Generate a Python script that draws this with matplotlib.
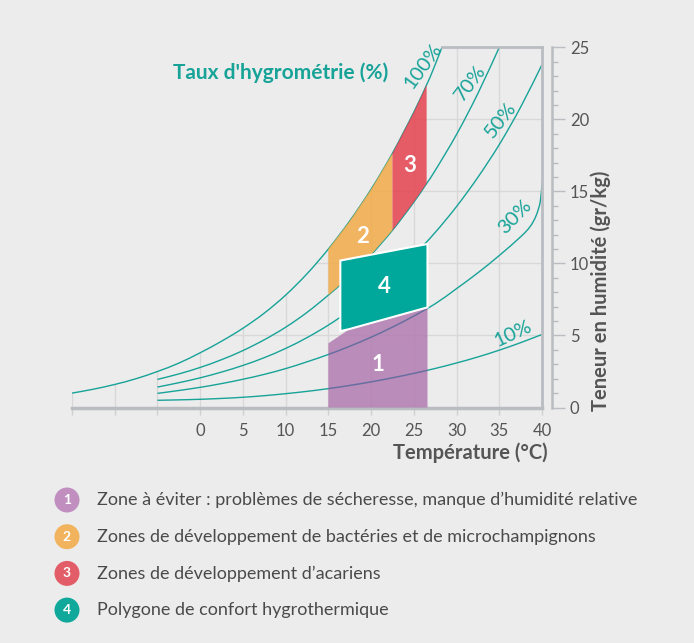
import matplotlib.pyplot as plt
from matplotlib.patches import Polygon, Circle, PathPatch
from matplotlib.path import Path

plt.rcParams['font.family'] = ['Lato', 'DejaVu Sans']

# courbes d'humidité relative : température (°C) -> teneur en eau (g/kg)
t_100 = [-15, -12.5, -10, -7.5, -5, -2.5, 0, 2.5, 5, 7.5, 10, 12.5, 15, 17.5, 20, 22.5, 25, 26.5, 27.5, 30]
w_100 = [1.0, 1.27, 1.6, 2.0, 2.5, 3.08, 3.8, 4.6, 5.5, 6.55, 7.8, 9.28, 11.0, 12.95, 15.15, 17.65, 20.5, 22.4, 23.8, 27.6]

t_70 = [-5, -2.5, 0, 2.5, 5, 7.5, 10, 12.5, 15, 17.5, 20, 22.5, 25, 26.5, 27.5, 30, 32.5, 35]
w_70 = [1.95, 2.33, 2.78, 3.32, 3.95, 4.7, 5.57, 6.6, 7.8, 9.1, 10.6, 12.3, 14.25, 15.55, 16.45, 18.95, 21.8, 25.0]

t_50 = [-5, -2.5, 0, 2.5, 5, 7.5, 10, 12.5, 15, 17.5, 20, 22.5, 25, 27.5, 30, 32.5, 35, 37.5, 40]
w_50 = [1.42, 1.72, 2.06, 2.46, 2.92, 3.46, 4.1, 4.85, 5.72, 6.72, 7.85, 9.12, 10.55, 12.15, 13.95, 15.98, 18.25, 20.85, 23.8]

t_30 = [-5, -2.5, 0, 2.5, 5, 7.5, 10, 12.5, 15, 17.5, 20, 22.5, 25, 27.5, 30, 32.5, 35, 37.5, 38.6, 39.3, 39.8, 40]
w_30 = [0.98, 1.18, 1.40, 1.66, 1.96, 2.3, 2.7, 3.17, 3.68, 4.25, 4.88, 5.58, 6.35, 7.2, 8.25, 9.35, 10.55, 11.85, 12.55, 13.3, 14.3, 15.6]

t_10 = [-5, -2.5, 0, 2.5, 5, 7.5, 10, 12.5, 15, 17.5, 20, 22.5, 25, 27.5, 30, 32.5, 35, 37.5, 40]
w_10 = [0.5, 0.53, 0.57, 0.63, 0.71, 0.82, 0.96, 1.12, 1.31, 1.53, 1.78, 2.06, 2.37, 2.71, 3.09, 3.51, 3.98, 4.5, 5.07]

# zones
zone1_t = [15, 15, 17.5, 26.6, 26.6]
zone1_w = [0, 4.45, 5.45, 6.95, 0]
zone4_t = [16.4, 26.6, 26.6, 17.5, 16.4]
zone4_w = [10.2, 11.35, 6.95, 5.45, 5.3]
zone2_range = (15, 22.5)
zone3_range = (22.5, 26.5)

legend_labels = [
    "Zone à éviter : problèmes de sécheresse, manque d’humidité relative",
    "Zones de développement de bactéries et de microchampignons",
    "Zones de développement d’acariens",
    "Polygone de confort hygrothermique",
]

teal = '#17a398'
grey = '#b9bcc1'
grid_c = '#d8d8d8'
txt = '#555555'
c_purple = '#b27bb0'
c_orange = '#f2ab48'
c_red = '#e4424f'
c_green = '#00a89b'


def smooth_path(t, w):
    # courbe lisse passant par les points lus (Bezier)
    pts = list(zip(t, w))
    n = len(pts)
    verts = [pts[0]]
    codes = [Path.MOVETO]
    for i in range(n - 1):
        p0, p1 = pts[max(i - 1, 0)], pts[i]
        p2, p3 = pts[i + 1], pts[min(i + 2, n - 1)]
        c1 = (p1[0] + (p2[0] - p0[0]) / 6, p1[1] + (p2[1] - p0[1]) / 6)
        c2 = (p2[0] - (p3[0] - p1[0]) / 6, p2[1] - (p3[1] - p1[1]) / 6)
        verts += [c1, c2, p2]
        codes += [Path.CURVE4] * 3
    return Path(verts, codes)


fig = plt.figure(figsize=(6.94, 6.43), dpi=100, facecolor='#ececec')
ax = fig.add_axes([72 / 694, 1 - 407.5 / 643, 470 / 694, 360.2 / 643])
ax.set_facecolor('none')
ax.set_xlim(-15, 40)
ax.set_ylim(0, 25)

# grille limitée sous la courbe de saturation
clip = Polygon([(-15, 0)] + list(zip(t_100, w_100)) + [(45, 27.6), (45, 0)],
               closed=True, transform=ax.transData)
for x in range(-15, 40, 5):
    ln, = ax.plot([x, x], [0, 25], color=grid_c, lw=1, zorder=1)
    ln.set_clip_path(clip)
for y in range(5, 25, 5):
    ln, = ax.plot([-15, 40], [y, y], color=grid_c, lw=1, zorder=1)
    ln.set_clip_path(clip)

curves = [(t_100, w_100), (t_70, w_70), (t_50, w_50), (t_30, w_30), (t_10, w_10)]
for t, w in curves:
    ax.add_patch(PathPatch(smooth_path(t, w), fc='none', ec=teal, lw=1.0, zorder=2))


# zones 2 et 3 entre 70% et 100%
def band(lo, hi):
    top = [(t, w) for t, w in zip(t_100, w_100) if lo <= t <= hi]
    bot = [(t, w) for t, w in zip(t_70, w_70) if lo <= t <= hi]
    return top + bot[::-1]


ax.add_patch(Polygon(band(*zone2_range), closed=True, fc=c_orange, ec='none', alpha=0.85, zorder=3))
ax.add_patch(Polygon(band(*zone3_range), closed=True, fc=c_red, ec='none', alpha=0.85, zorder=3))
z1 = Polygon(list(zip(zone1_t, zone1_w)), closed=True, fc=c_purple, ec='none', alpha=0.85, zorder=3)
ax.add_patch(z1)
# courbes vues à travers la zone 1
for t, w in curves:
    pp = PathPatch(smooth_path(t, w), fc='none', ec='#5a6a9e', lw=1.0, alpha=0.8, zorder=3.5)
    ax.add_patch(pp)
    pp.set_clip_path(z1)
ax.add_patch(Polygon(list(zip(zone4_t, zone4_w)), closed=True, fc=c_green, ec='white', lw=1.5, zorder=4))

num_kw = dict(color='white', fontsize=16, fontweight='bold', ha='center', va='center', zorder=6)
ax.text(20.8, 2.95, '1', **num_kw)
ax.text(19.05, 11.9, '2', **num_kw)
ax.text(24.55, 16.8, '3', **num_kw)
ax.text(21.6, 8.43, '4', **num_kw)

# libellés des courbes
lab_kw = dict(color=teal, fontsize=14.5, ha='center', va='center', rotation_mode='anchor')
ax.text(26.1, 23.7, '100%', rotation=54, **lab_kw)
ax.text(31.6, 22.5, '70%', rotation=53, **lab_kw)
ax.text(35.2, 19.95, '50%', rotation=52, **lab_kw)
ax.text(36.8, 13.2, '30%', rotation=46, **lab_kw)
ax.text(36.6, 5.15, '10%', rotation=25, **lab_kw)

# cadre
ax.plot([28.3, 40], [25, 25], color=grey, lw=2, clip_on=False, zorder=5)
ax.plot([40, 40], [0, 25], color=grey, lw=2, clip_on=False, zorder=5)

for s in ['left', 'top']:
    ax.spines[s].set_visible(False)
ax.spines['bottom'].set_color(grey)
ax.spines['bottom'].set_linewidth(2.5)
ax.spines['right'].set_position(('outward', 7))
ax.spines['right'].set_color(grey)
ax.spines['right'].set_linewidth(1.8)

ax.set_xticks(range(-15, 41, 5))
ax.set_xticklabels(['' if v < 0 else str(v) for v in range(-15, 41, 5)])
ax.tick_params(axis='x', length=5, width=1, color='#cfcfcf', labelsize=12, labelcolor=txt, pad=6)

ax.yaxis.tick_right()
ax.set_yticks(range(0, 26, 5))
ax.set_yticks(range(0, 26), minor=True)
ax.tick_params(axis='y', which='major', length=9, width=1, color=grey, labelsize=12, labelcolor=txt, pad=4)
ax.tick_params(axis='y', which='minor', length=4, width=1, color=grey)

# surcouche en pixels pour titres et légende
ov = fig.add_axes([0, 0, 1, 1])
ov.set_xlim(0, 694)
ov.set_ylim(643, 0)
ov.axis('off')

ov.text(173, 73, "Taux d'hygrométrie (%)", color=teal, fontsize=15, fontweight='bold', ha='left', va='center')
ov.text(548, 453, 'Température (°C)', color=txt, fontsize=14.5, fontweight='bold', ha='right', va='center')
ov.text(601, 291, 'Teneur en humidité (gr/kg)', color=txt, fontsize=14.5, fontweight='bold',
        ha='center', va='center', rotation=90)

leg_colors = ['#c08fc0', '#f2b35e', '#e35d68', '#0fa89b']
for i, (lab, col) in enumerate(zip(legend_labels, leg_colors)):
    y = 500 + i * 36.7
    ov.add_patch(Circle((67, y), 12.5, fc=col, ec='none'))
    ov.text(67, y, str(i + 1), color='white', fontsize=10, fontweight='bold', ha='center', va='center')
    ov.text(97, y, lab, color='#4a4a4a', fontsize=13, ha='left', va='center')

fig.savefig('out.png', dpi=100, facecolor=fig.get_facecolor())
